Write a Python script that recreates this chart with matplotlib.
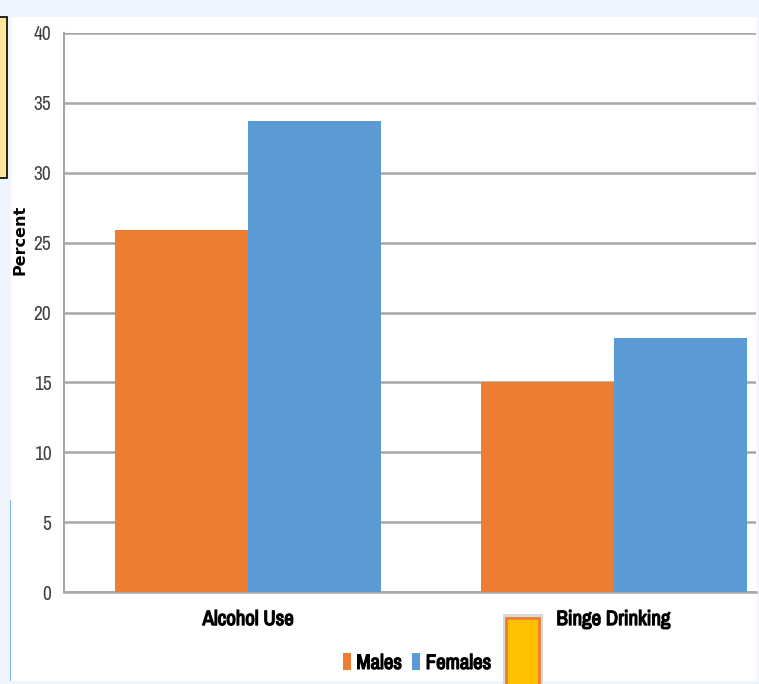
import matplotlib.pyplot as plt
import matplotlib.patheffects as pe
from matplotlib.patches import Rectangle
from matplotlib import font_manager
import numpy as np

categories = ["Alcohol Use", "Binge Drinking"]
males = [25.9, 15.0]
females = [33.7, 18.2]
series_names = ["Males", "Females"]
yticks = [0, 5, 10, 15, 20, 25, 30, 35, 40]

# condensed font like the original, if one is around
names = {f.name for f in font_manager.fontManager.ttflist}
narrow = ["Liberation Sans", "DejaVu Sans"]
for cand in ["Liberation Sans Narrow", "Archivo Narrow"]:
    if cand in names:
        narrow = [cand, "DejaVu Sans"]
        break
heavy = [pe.withStroke(linewidth=0.9, foreground="black")]

W, H = 759, 684
fig = plt.figure(figsize=(W / 100, H / 100), dpi=100)
fig.patch.set_facecolor("#EEF5FE")

# white panel and decorations
fig.patches.append(Rectangle((11 / W, 1 - 681 / H), (757 - 11) / W, (681 - 17) / H,
                             transform=fig.transFigure, facecolor="white", edgecolor="none", zorder=-5))
fig.patches.append(Rectangle((10 / W, 1 - 681 / H), 1.2 / W, (681 - 500) / H,
                             transform=fig.transFigure, facecolor="#7FB6F0", edgecolor="none", zorder=-4))
fig.patches.append(Rectangle((-2 / W, 1 - 178 / H), 9 / W, (178 - 17) / H,
                             transform=fig.transFigure, facecolor="#FFE699", edgecolor="black", lw=1.2, zorder=1))
fig.patches.append(Rectangle((503 / W, 1 - 686 / H), 40 / W, (686 - 614) / H,
                             transform=fig.transFigure, facecolor="#D9D9D9", edgecolor="none", zorder=1))
fig.patches.append(Rectangle((506 / W, 1 - 690 / H), 33 / W, (690 - 618) / H,
                             transform=fig.transFigure, facecolor="#FFC000", edgecolor="#ED7D31", lw=2, zorder=2))

ax = fig.add_axes([64 / W, 1 - 592 / H, (756 - 64) / W, (592 - 33) / H])
ax.set_facecolor("none")

x = np.arange(len(categories))
bw = 0.364
ax.bar(x - bw / 2, males, bw, color="#ED7D31", label=series_names[0], zorder=3)
ax.bar(x + bw / 2, females, bw, color="#5B9BD5", label=series_names[1], zorder=3)

ax.set_xlim(-0.504, 1.39)
ax.set_ylim(0, 40)
ax.set_yticks(yticks)
ax.set_yticklabels([str(v) for v in yticks], family=narrow, fontsize=14, color="#404040")
ax.set_xticks(x)
ax.set_xticklabels(categories, family=narrow, fontsize=15, color="black")
for t in ax.get_xticklabels():
    t.set_path_effects(heavy)
ax.tick_params(length=0)
ax.tick_params(axis="y", pad=9)
ax.tick_params(axis="x", pad=13)
ax.grid(axis="y", color="#A6A6A6", lw=1.8, zorder=1)
ax.set_axisbelow(True)
for s in ["top", "right"]:
    ax.spines[s].set_visible(False)
ax.spines["left"].set_color("#A6A6A6")
ax.spines["left"].set_linewidth(1.5)
ax.spines["bottom"].set_color("#A6A6A6")
ax.spines["bottom"].set_linewidth(1.8)

fig.text(20 / W, 1 - 240 / H, "Percent", rotation=90, ha="center", va="center",
         fontsize=11.5, fontweight="heavy", family="DejaVu Sans")

leg = fig.legend(loc="center", bbox_to_anchor=(417 / W, 1 - 663 / H), ncol=2, frameon=False,
                 prop={"family": narrow, "size": 15},
                 handlelength=0.4, handleheight=0.9, handletextpad=0.25, columnspacing=0.5)
for t in leg.get_texts():
    t.set_path_effects(heavy)

fig.savefig("out.png", dpi=100, facecolor=fig.get_facecolor())
